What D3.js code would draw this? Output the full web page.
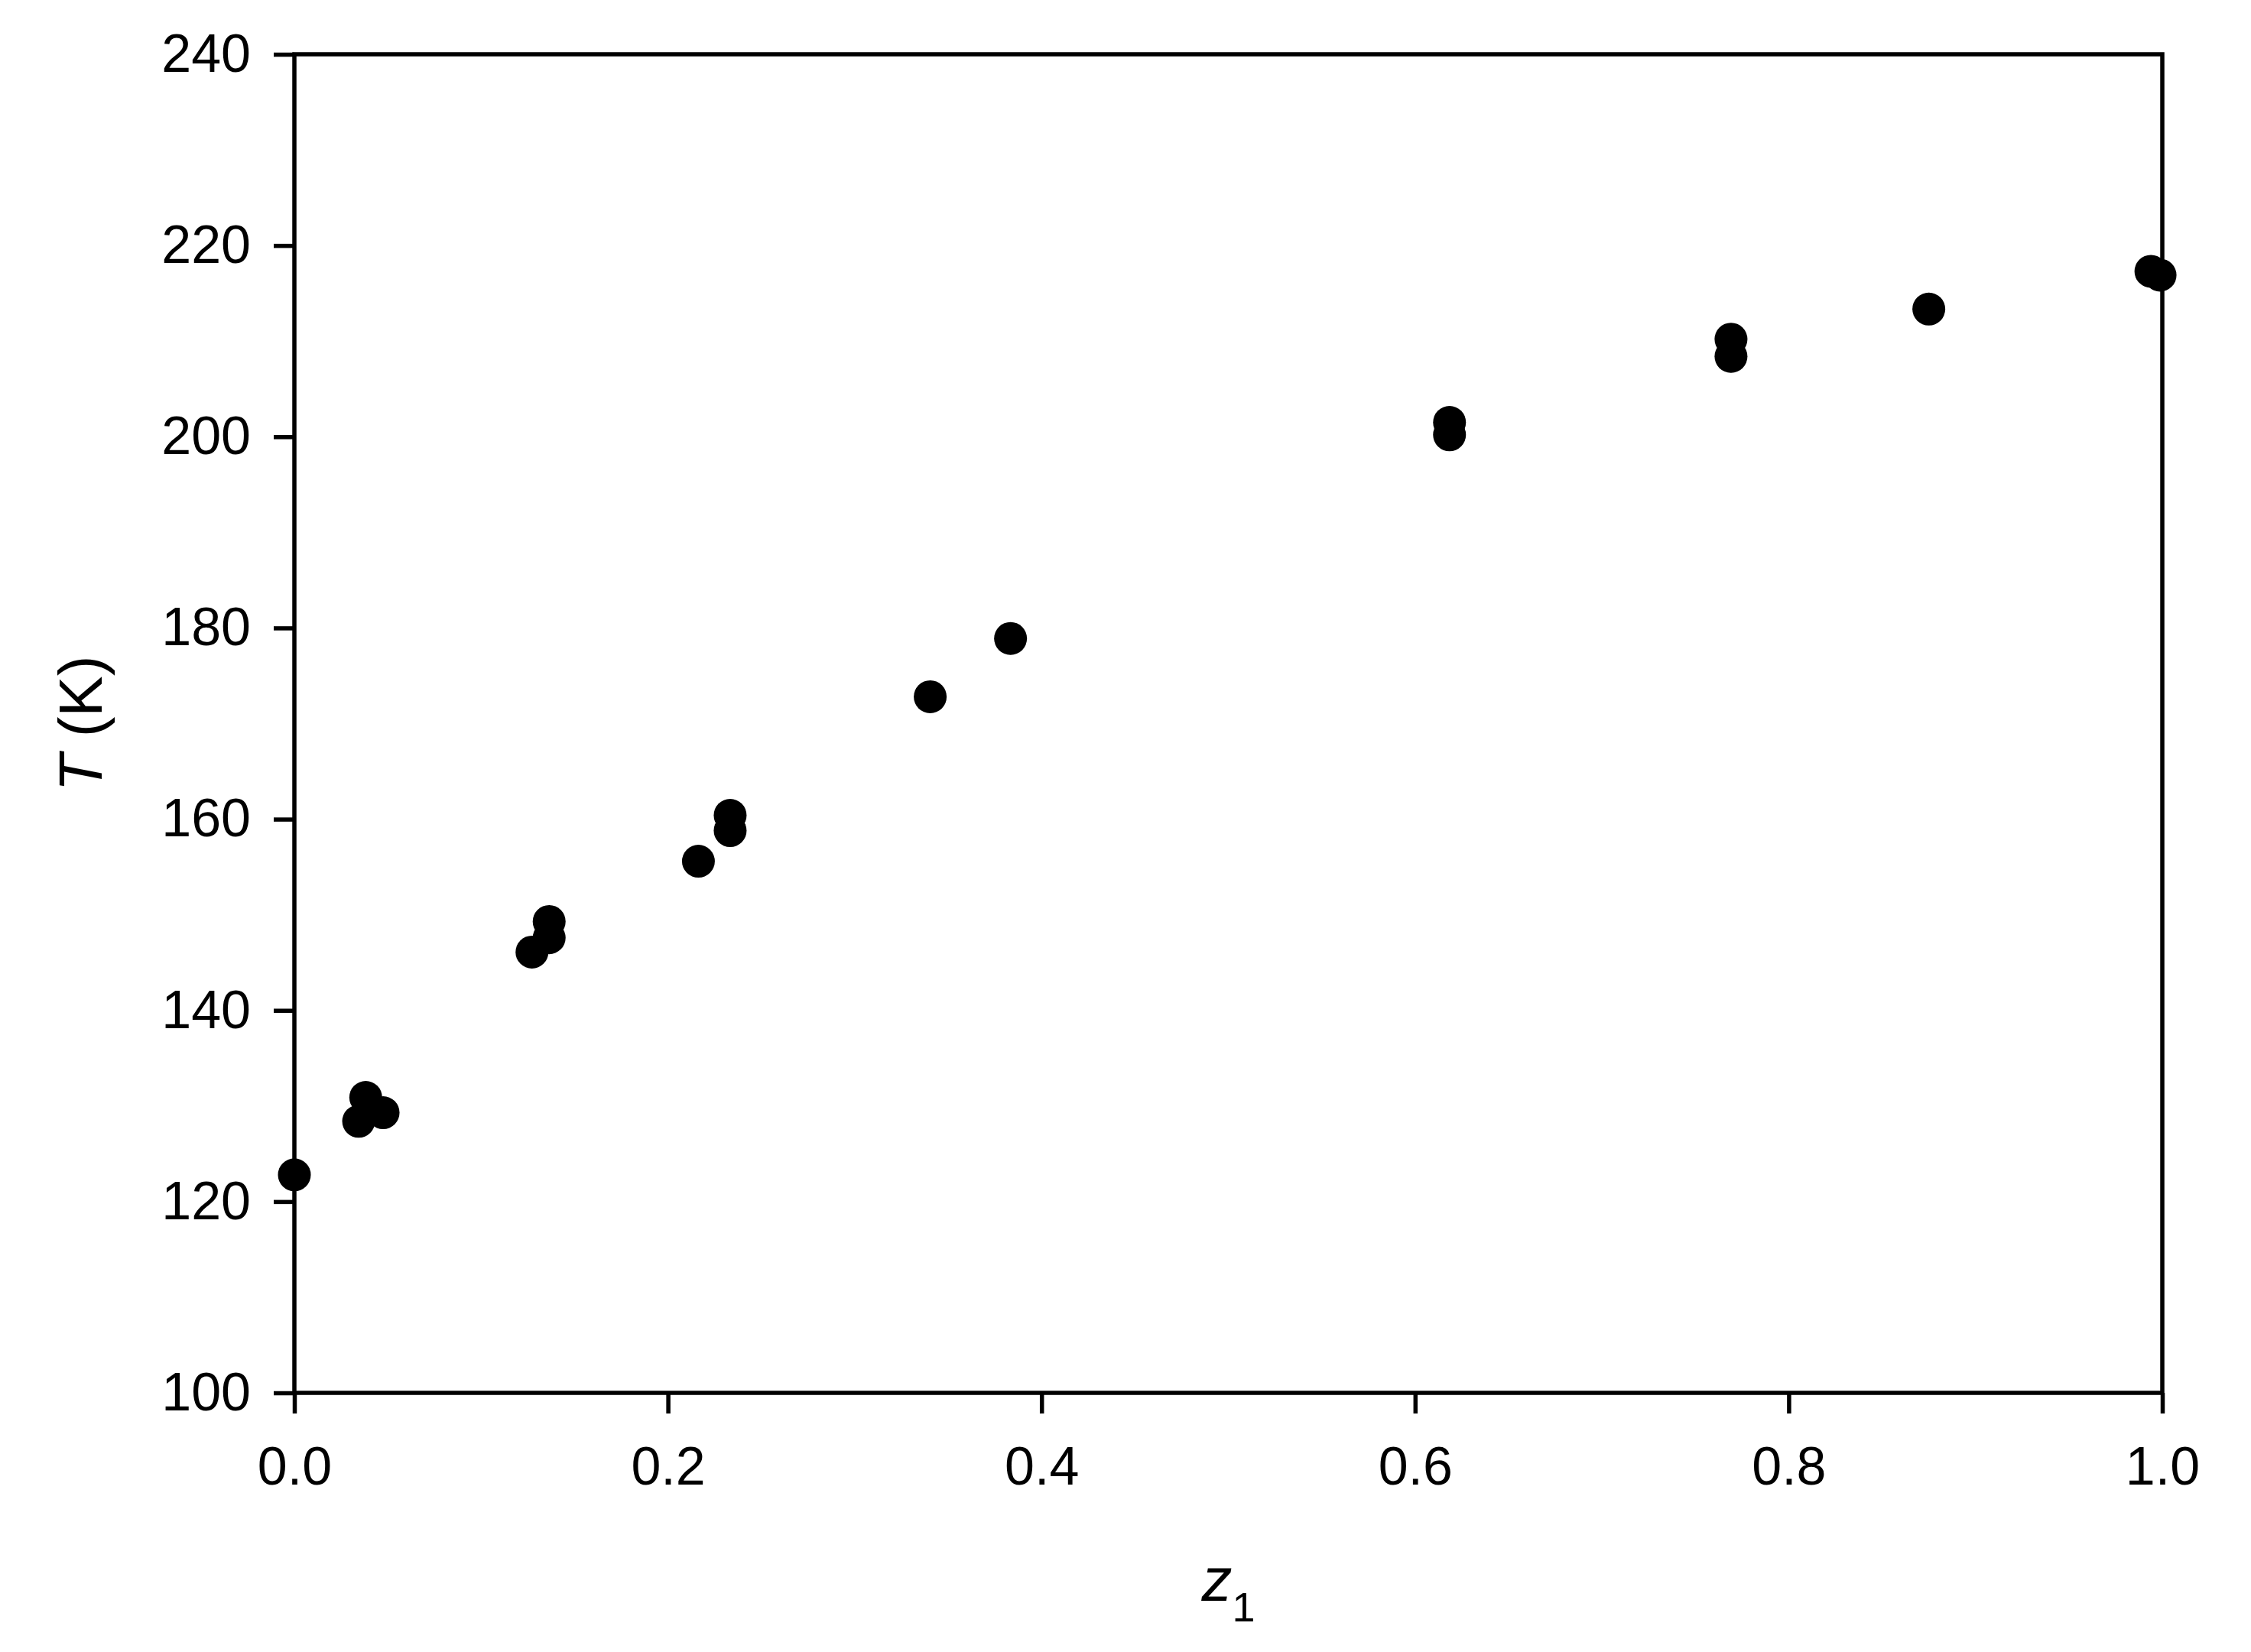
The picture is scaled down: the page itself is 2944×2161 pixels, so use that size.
<!DOCTYPE html>
<html>
<head>
<meta charset="utf-8">
<script src="https://cdn.jsdelivr.net/npm/d3@7"></script>
<style>
  body { margin: 0; background: #fff; }
  svg { display: block; font-family: "Liberation Sans", Arial, sans-serif; }
</style>
</head>
<body>
<div class="stage"></div>
<script>
// data
var z1 = [0.000, 0.0344, 0.0382, 0.0475, 0.1272, 0.1364, 0.1364, 0.2163, 0.2333, 0.2333,
          0.3404, 0.3834, 0.6184, 0.6184, 0.7691, 0.7691, 0.875, 0.9939, 0.9988];
var tempK = [122.8, 128.4, 130.9, 129.3, 146.1, 147.6, 149.3, 155.6, 160.4, 158.8,
             172.8, 178.9, 201.5, 200.2, 210.2, 208.4, 213.35, 217.3, 216.9];
var xTicks = [0, 0.2, 0.4, 0.6, 0.8, 1.0];
var yTicks = [100, 120, 140, 160, 180, 200, 220, 240];

var W = 2944, H = 2161;
// plot box (note: "top" is taken by window.top, so use own names)
var plotL = 385, plotR = 2828, plotT = 71, plotB = 1822;

var svg = d3.select(".stage").append("svg").attr("width", W).attr("height", H);
svg.append("rect").attr("width", W).attr("height", H).attr("fill", "#fff");

var x = d3.scaleLinear().domain([0, 1]).range([plotL, plotR]);
var y = d3.scaleLinear().domain([100, 240]).range([plotB, plotT]);

var pts = z1.map(function(d, i){ return {x: d, t: tempK[i]}; });

// axes
var xAxis = d3.axisBottom(x).tickValues(xTicks).tickFormat(d3.format(".1f"))
  .tickSize(27).tickSizeOuter(0).tickPadding(43);
var yAxis = d3.axisLeft(y).tickValues(yTicks).tickFormat(d3.format("d"))
  .tickSize(27).tickSizeOuter(0).tickPadding(30);

var gx = svg.append("g").attr("transform", "translate(0," + plotB + ")").call(xAxis);
var gy = svg.append("g").attr("transform", "translate(" + plotL + ",0)").call(yAxis);

[gx, gy].forEach(function(g){
  g.select(".domain").remove();
  g.selectAll(".tick line").attr("stroke", "#000").attr("stroke-width", 5.5);
  g.selectAll(".tick text").attr("fill", "#000")
    .style("font-size", "70px").style("font-family", "Liberation Sans, Arial, sans-serif");
});

// frame
svg.append("rect")
  .attr("x", plotL).attr("y", plotT)
  .attr("width", plotR - plotL).attr("height", plotB - plotT)
  .attr("fill", "none").attr("stroke", "#000").attr("stroke-width", 5.5);

// points
svg.selectAll("circle.pt").data(pts).enter()
  .append("circle")
  .attr("class", "pt")
  .attr("cx", function(d){ return x(d.x); })
  .attr("cy", function(d){ return y(d.t); })
  .attr("r", 21.5)
  .attr("fill", "#000");

// axis titles
var xt = svg.append("text")
  .attr("x", (plotL + plotR) / 2).attr("y", 2094)
  .attr("text-anchor", "middle")
  .style("font-size", "80px");
xt.append("tspan").style("font-style", "italic").text("z");
xt.append("tspan").attr("dy", 27).style("font-size", "54px").text("1");

var yt = svg.append("text")
  .attr("transform", "translate(133," + (plotT + plotB) / 2 + ") rotate(-90)")
  .attr("text-anchor", "middle")
  .style("font-size", "80px");
yt.append("tspan").style("font-style", "italic").text("T");
yt.append("tspan").text(" (K)");
</script>
</body>
</html>
